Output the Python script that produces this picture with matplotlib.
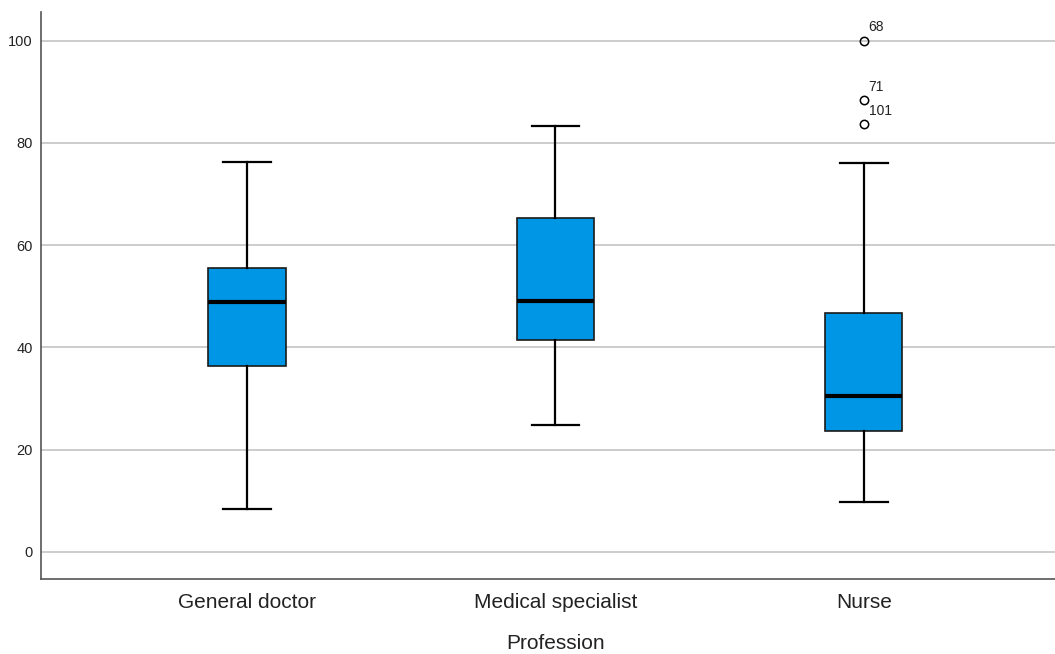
import matplotlib
matplotlib.use("Agg")
import matplotlib.pyplot as plt

plt.rcParams['font.family'] = ['Liberation Sans', 'DejaVu Sans']

categories = ["General doctor", "Medical specialist", "Nurse"]
whisker_low = [8.4, 24.8, 9.8]
q1 = [36.4, 41.5, 23.7]
median = [48.8, 49.1, 30.5]
q3 = [55.5, 65.4, 46.7]
whisker_high = [76.3, 83.3, 76.1]
outliers = [[], [], [100.0, 88.3, 83.6]]
outlier_labels = [[], [], ["68", "71", "101"]]
yticks = [0, 20, 40, 60, 80, 100]

fig = plt.figure(figsize=(10.55, 6.54), dpi=100)
ax = fig.add_axes([41/1055, 1 - 579/654, 1 - 41/1055, (579 - 12)/654])

stats = []
for i, c in enumerate(categories):
    stats.append(dict(label=c, whislo=whisker_low[i], q1=q1[i], med=median[i],
                      q3=q3[i], whishi=whisker_high[i], fliers=outliers[i]))

positions = list(range(1, len(categories) + 1))
ax.bxp(stats, positions=positions, widths=0.25, patch_artist=True,
       showfliers=True, capwidths=0.155,
       boxprops=dict(facecolor='#0096E6', edgecolor='#1a1a1a', linewidth=1.2),
       medianprops=dict(color='black', linewidth=3),
       whiskerprops=dict(color='black', linewidth=1.6),
       capprops=dict(color='black', linewidth=1.6),
       flierprops=dict(marker='o', markerfacecolor='none', markeredgecolor='black',
                       markersize=6, markeredgewidth=1.1))

for i, (vals, labs) in enumerate(zip(outliers, outlier_labels)):
    for v, l in zip(vals, labs):
        ax.annotate(l, (positions[i], v), xytext=(3.5, 9.5), textcoords='offset points',
                    fontsize=10, ha='left', va='center', color='#222222')

xlo, xhi = 0.332, 3.62
ax.set_xlim(xlo, xhi)
ax.set_ylim(-5.3, 105.6)
ax.set_yticks(yticks)
ax.set_xticks(positions)
ax.set_xticklabels(categories, fontsize=15, color='#222222')
ax.tick_params(axis='y', labelsize=10.5, length=0, pad=6, colors='#222222')
ax.tick_params(axis='x', length=0, pad=10)
ax.set_xlabel("Profession", fontsize=15, color='#222222', labelpad=16)
ax.xaxis.label.set_x((2 - xlo) / (xhi - xlo))

ax.yaxis.grid(True, color='#c8c8c8', linewidth=1.3)
ax.set_axisbelow(True)
for s in ['top', 'right']:
    ax.spines[s].set_visible(False)
for s in ['left', 'bottom']:
    ax.spines[s].set_color('#555555')
    ax.spines[s].set_linewidth(1.2)

fig.savefig("out.png", dpi=100)
